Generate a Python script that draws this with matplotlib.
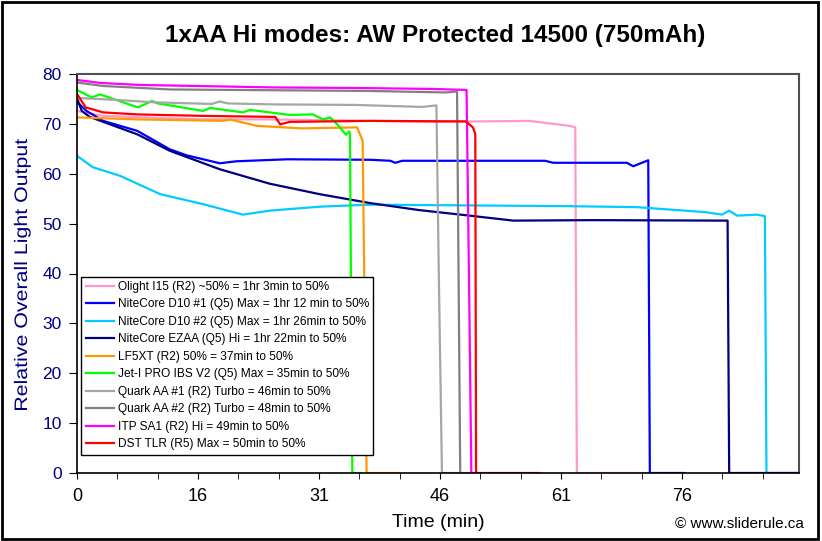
import matplotlib
matplotlib.use("Agg")
import matplotlib.pyplot as plt
from matplotlib.patches import Rectangle, PathPatch
from matplotlib.textpath import TextPath
from matplotlib.font_manager import FontProperties
from matplotlib.transforms import Affine2D
import numpy as np

plt.rcParams["font.family"] = ["Liberation Sans", "DejaVu Sans"]

# readings: time (min), relative output
olight_t = [0, 3.3, 15.9, 24.3, 37, 45, 57, 62.1, 62.8, 63.0, 72.4]
olight_y = [72.6, 71.6, 70.9, 70.9, 70.6, 70.4, 70.6, 69.6, 69.3, 0, 0]

d10a_t = [0, 1.2, 3.3, 7.6, 11.7, 13.8, 18.0, 20.1, 26.5, 37, 39.5, 40.1, 41, 59, 60, 69.3, 70.1, 72.0, 72.2, 76.5]
d10a_y = [74.4, 72.6, 70.6, 68.6, 64.9, 63.7, 62.1, 62.5, 62.9, 62.8, 62.6, 62.2, 62.6, 62.6, 62.2, 62.2, 61.5, 62.7, 0, 0]

d10b_t = [0, 2.0, 5.4, 10.5, 15.9, 20.9, 24.3, 30.6, 37, 62.1, 70.6, 79.2, 81.3, 82.2, 83.2, 85.7, 86.7, 86.9, 91]
d10b_y = [63.6, 61.3, 59.6, 55.9, 53.9, 51.8, 52.6, 53.4, 53.8, 53.5, 53.3, 52.3, 51.8, 52.6, 51.6, 51.8, 51.5, 0, 0]

ezaa_t = [0, 0.6, 1.6, 7.6, 11.7, 18.0, 24.3, 30.6, 37.0, 43.2, 49.5, 55.0, 65, 82.0, 82.2, 91]
ezaa_y = [75.2, 72.6, 71.4, 67.9, 64.6, 60.9, 58.0, 55.9, 54.1, 52.7, 51.6, 50.6, 50.7, 50.6, 0, 0]

lf5xt_t = [0, 7.6, 18.4, 19.3, 20.0, 22.7, 28.3, 35.3, 36.0, 36.5, 40.5]
lf5xt_y = [71.3, 70.9, 70.6, 70.9, 70.6, 69.6, 69.1, 69.3, 66.6, 0, 0]

jeti_t = [0, 1.85, 2.9, 7.7, 9.45, 10.2, 15.9, 16.8, 20.9, 21.8, 26.8, 29.7, 31.0, 31.9, 32.8, 33.5, 33.9, 34.3, 34.4, 34.7, 35.9]
jeti_y = [76.8, 75.3, 75.9, 73.3, 74.6, 74.1, 72.6, 73.2, 72.3, 72.8, 71.8, 71.9, 70.9, 71.3, 69.9, 68.6, 67.8, 68.5, 68.0, 0, 0]

quark1_t = [0, 5, 10, 17, 18, 19, 25, 35, 43.5, 45.3, 45.6, 46.0, 48.4]
quark1_y = [75.2, 74.8, 74.3, 74.0, 74.5, 74.1, 73.9, 73.8, 73.4, 73.7, 40, 0, 0]

quark2_t = [0, 3.3, 11.7, 37, 46.5, 47.9, 48.3, 49.5]
quark2_y = [78.3, 77.6, 76.9, 76.6, 76.3, 76.5, 0, 0]

itp_t = [0, 3, 8, 15, 25, 35, 45, 49.1, 49.4, 49.7, 50.5]
itp_y = [78.8, 78.2, 77.8, 77.6, 77.3, 77.2, 77.0, 76.8, 40, 0, 0]

dst_t = [0, 1.1, 3.3, 7.6, 15.9, 25.0, 25.6, 26.8, 37, 49.0, 49.9, 50.2, 50.3, 58.3]
dst_y = [76.0, 73.3, 72.3, 71.9, 71.6, 71.4, 69.9, 70.4, 70.6, 70.5, 69.3, 68.0, 0, 0]

series = [
    (olight_t, olight_y, "#FF99CC", "Olight I15 (R2) ~50% = 1hr 3min to 50%"),
    (d10a_t, d10a_y, "#0000FF", "NiteCore D10 #1 (Q5) Max = 1hr 12 min to 50%"),
    (d10b_t, d10b_y, "#00CCFF", "NiteCore D10 #2 (Q5) Max = 1hr 26min to 50%"),
    (ezaa_t, ezaa_y, "#000080", "NiteCore EZAA (Q5) Hi = 1hr 22min to 50%"),
    (lf5xt_t, lf5xt_y, "#FF9900", "LF5XT (R2) 50% = 37min to 50%"),
    (jeti_t, jeti_y, "#00FF00", "Jet-I PRO IBS V2 (Q5) Max = 35min to 50%"),
    (quark1_t, quark1_y, "#A6A6A6", "Quark AA #1 (R2) Turbo = 46min to 50%"),
    (quark2_t, quark2_y, "#808080", "Quark AA #2 (R2) Turbo = 48min to 50%"),
    (itp_t, itp_y, "#FF00FF", "ITP SA1 (R2) Hi = 49min to 50%"),
    (dst_t, dst_y, "#FF0000", "DST TLR (R5) Max = 50min to 50%"),
]

xtick_labels = ["0", "16", "31", "46", "61", "76"]
step = 15.25
W, H = 822, 541

fig = plt.figure(figsize=(W / 100, H / 100), dpi=100)
ax = fig.add_axes([77 / W, 1 - 473 / H, 722 / W, 399 / H])

for t, y, c, lab in series:
    ax.plot(t, y, color=c, lw=1.6, label=lab)

ax.set_xlim(0, 91)
ax.set_ylim(0, 80)
ax.set_yticks(range(0, 81, 10))
ax.set_xticks([i * step for i in range(len(xtick_labels))])
ax.set_xticklabels(xtick_labels)
ax.set_xticks(np.arange(0, 91, step / 3), minor=True)
ax.tick_params(axis="y", labelsize=12.5, labelcolor="#000080", length=5.5, pad=5.5, direction="out")
ax.tick_params(axis="x", which="both", labelsize=13, length=4.3, direction="out", pad=6.5)

for s in ["top", "right"]:
    ax.spines[s].set_color("#505050")
    ax.spines[s].set_linewidth(1.5)
for s in ["left", "bottom"]:
    ax.spines[s].set_color("black")
    ax.spines[s].set_linewidth(1.2)

# y label, a little stretched along its baseline like the original
fp = FontProperties(family="Liberation Sans")
tp = TextPath((0, 0), "Relative Overall Light Output", size=13, prop=fp)
ext = tp.get_extents()
sx = (271 * 0.72) / ext.width
tr = (Affine2D().translate(-ext.x0 - ext.width / 2, 0).scale(sx, 1).rotate_deg(90)
      .translate(27 * 0.72, (H - 274.5) * 0.72).scale(1 / 72) + fig.dpi_scale_trans)
fig.patches.append(PathPatch(tp, transform=tr, facecolor="#000080", edgecolor="none"))

fig.text(438.5 / W, (H - 526.7) / H, "Time (min)", fontsize=14, ha="center", va="baseline")

fig.text(435.5 / W, 1 - 41.7 / H, "1xAA Hi modes: AW Protected 14500 (750mAh)",
         fontsize=17.5, fontweight="bold", ha="center", va="baseline")

leg = ax.legend(loc="upper left", bbox_to_anchor=(0.006, 0.492), fontsize=8.6,
                fancybox=False, framealpha=1, edgecolor="black", handlelength=2.4,
                handletextpad=0.3, labelspacing=0.46, borderpad=0.35, borderaxespad=0)
leg.get_frame().set_linewidth(1.0)

fig.text(804 / W, (H - 528.3) / H, "© www.sliderule.ca", fontsize=11, ha="right", va="baseline")

fig.patches.append(Rectangle((0.002, 0.003), 0.993, 0.994, transform=fig.transFigure,
                             fill=False, edgecolor="black", lw=2))

fig.savefig("out.png", dpi=100)
